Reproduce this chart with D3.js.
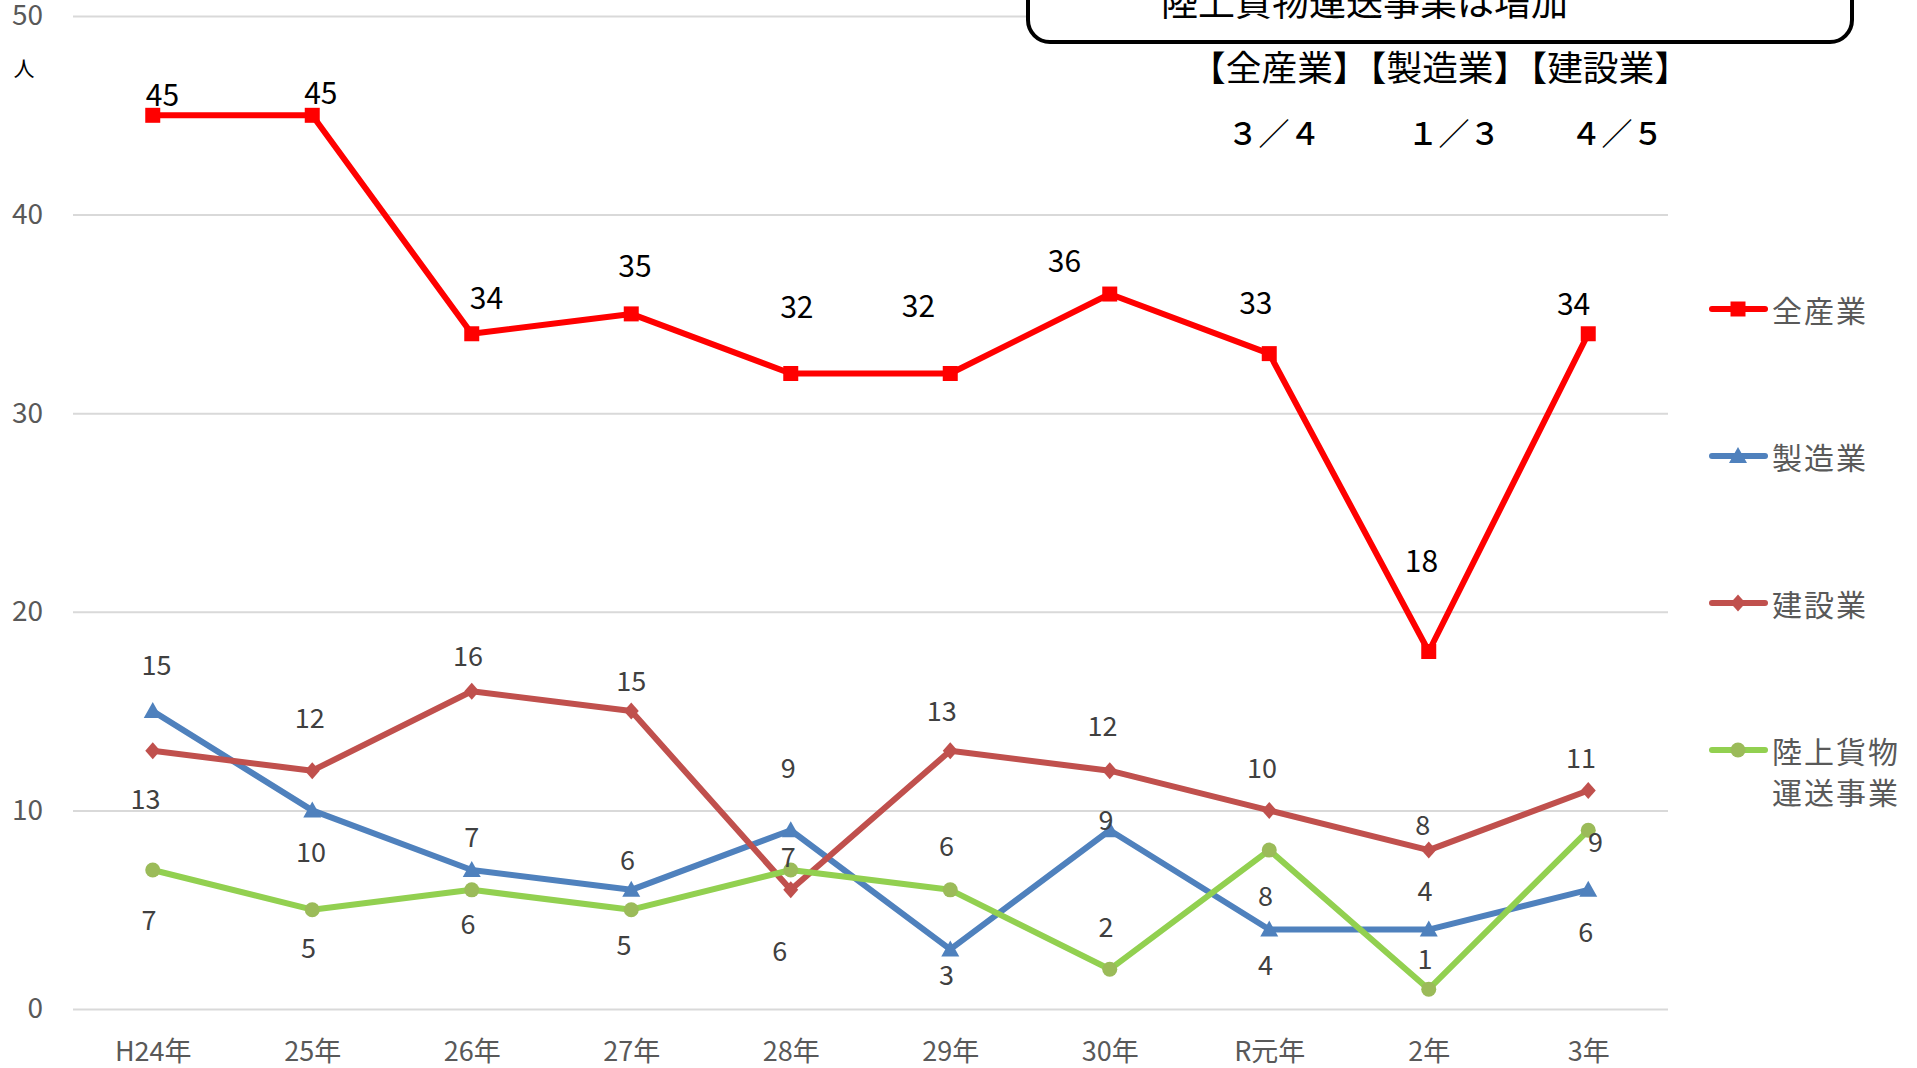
<!DOCTYPE html>
<html><head><meta charset="utf-8">
<script src="https://cdn.jsdelivr.net/npm/d3@7/dist/d3.min.js"></script>
<style>
html,body{margin:0;padding:0;background:#fff;}
svg{display:block;font-family:"Noto Sans CJK JP","Noto Sans",sans-serif;}
</style></head>
<body>
<svg id="chart" width="1917" height="1068"></svg>
<script>
// ---- data ----
const categories = ["H24年","25年","26年","27年","28年","29年","30年","R元年","2年","3年"];
const seriesNames = ["全産業","製造業","建設業","陸上貨物運送事業"];
const allIndustry = [45,45,34,35,32,32,36,33,18,34];
const manufacturing = [15,10,7,6,9,3,9,4,4,6];
const construction = [13,12,16,15,6,13,12,10,8,11];
const landFreight = [7,5,6,5,7,6,2,8,1,9];
const yTicks = [0,10,20,30,40,50];
const boxTitle = "陸上貨物運送事業は増加";
const ratioHeader = "【全産業】【製造業】【建設業】";
const ratios = ["３／４","１／３","４／５"];
const unitLabel = "人";

// ---- layout (label offsets in px, placed by hand in the original) ----
const labelOffsets = [
  [[8,-18],[7,-20],[12,-31],[3,-41],[5,-56],[-26,-57],[-37,-29],[-11,-43],[-6,-76],[-12,-26]],
  [[3,-39],[-1,33],[0,-28],[-3,-26],[-2,-52],[-3,20],[-3,-10],[-3,28],[-3,-33],[-2,33]],
  [[-6,38],[-2,-44],[-3,-30],[0,-26],[-9,49],[-7,-34],[-6,-38],[-6,-36],[-5,-22],[-6,-28]],
  [[-3,40],[-3,30],[-3,27],[-6,28],[-2,-12],[-3,-37],[-3,-36],[-3,36],[-3,-26],[6,8]]
].map(s => s.map(([dx,dy]) => [dx*1.2226, dy*1.2226]));

const styles = [
  {line:"#FF0000", marker:"#FF0000", shape:"square", labelColor:"#000", labelSize:30},
  {line:"#4F81BD", marker:"#4F81BD", shape:"triangle", labelColor:"#404040", labelSize:27},
  {line:"#C0504D", marker:"#C0504D", shape:"diamond", labelColor:"#404040", labelSize:27},
  {line:"#92D050", marker:"#9BBB59", shape:"circle", labelColor:"#404040", labelSize:27}
];
const seriesValues = [allIndustry, manufacturing, construction, landFreight];

const svg = d3.select("#chart");
const plotLeft = 73, plotRight = 1668, plotTop = 16, plotBottom = 1009;

const x = d3.scalePoint().domain(categories).range([plotLeft, plotRight]).padding(0.5);
const y = d3.scaleLinear().domain([0,50]).range([plotBottom, plotTop]);

// gridlines + y labels
const yAxis = svg.append("g").attr("transform", `translate(${plotLeft},0)`)
  .call(d3.axisLeft(y).tickValues(yTicks).tickSize(-(plotRight-plotLeft)).tickPadding(30));
yAxis.select(".domain").remove();
yAxis.selectAll(".tick line").attr("stroke","#D9D9D9").attr("stroke-width",2);
yAxis.selectAll(".tick text").attr("fill","#595959").attr("font-size",28)
  .attr("font-family",'"Noto Sans CJK JP",sans-serif');

// x labels
const xAxis = svg.append("g").attr("transform", `translate(0,${plotBottom})`)
  .call(d3.axisBottom(x).tickSize(0));
xAxis.select(".domain").remove();
xAxis.selectAll(".tick text").attr("fill","#595959").attr("font-size",27)
  .attr("y",40).attr("dy",null).attr("dominant-baseline","central")
  .attr("font-family",'"Noto Sans CJK JP",sans-serif');

// unit
svg.append("text").attr("x",24).attr("y",67).attr("text-anchor","middle")
  .attr("dominant-baseline","central").attr("font-size",21).attr("fill","#000").text(unitLabel);

function markerPath(shape){
  if(shape==="square") return "M-7.5,-7.5H7.5V7.5H-7.5Z";
  if(shape==="triangle") return "M0,-9L9,7H-9Z";
  if(shape==="diamond") return "M0,-8.5L7.5,0L0,8.5L-7.5,0Z";
  return null;
}
function drawMarker(g, shape, color, cx, cy){
  if(shape==="circle"){
    g.append("circle").attr("cx",cx).attr("cy",cy).attr("r",7.5).attr("fill",color);
  } else {
    g.append("path").attr("d",markerPath(shape)).attr("transform",`translate(${cx},${cy})`).attr("fill",color);
  }
}

const line = d3.line().x((d,i)=>x(categories[i])).y(d=>y(d));

const drawOrder = [0,1,2,3];
drawOrder.forEach(si => {
  const vals = seriesValues[si], st = styles[si];
  const g = svg.append("g");
  g.append("path").datum(vals).attr("d",line).attr("fill","none")
    .attr("stroke",st.line).attr("stroke-width",6).attr("stroke-linejoin","round");
  vals.forEach((v,i)=> drawMarker(g, st.shape, st.marker, x(categories[i]), y(v)));
});
drawOrder.forEach(si => {
  const vals = seriesValues[si], st = styles[si];
  svg.append("g").selectAll("text").data(vals).join("text")
    .attr("x",(d,i)=>x(categories[i])+labelOffsets[si][i][0])
    .attr("y",(d,i)=>y(d)+labelOffsets[si][i][1])
    .attr("text-anchor","middle").attr("dominant-baseline","central")
    .attr("font-size",st.labelSize).attr("fill",st.labelColor).text(d=>d);
});

// legend
const legendY = [309,456,603,750];
seriesNames.forEach((name,si)=>{
  const st = styles[si];
  const g = svg.append("g");
  g.append("line").attr("x1",1712).attr("x2",1765).attr("y1",legendY[si]).attr("y2",legendY[si])
    .attr("stroke",st.line).attr("stroke-width",6).attr("stroke-linecap","round");
  drawMarker(g, st.shape, st.marker, 1738, legendY[si]);
  const t = g.append("text").attr("x",1772).attr("font-size",30).attr("fill","#595959")
    .attr("letter-spacing",2);
  if(name.length>4){
    t.append("tspan").attr("x",1772).attr("y",legendY[si]).attr("dominant-baseline","central").text(name.slice(0,4));
    t.append("tspan").attr("x",1772).attr("y",legendY[si]+41).attr("dominant-baseline","central").text(name.slice(4));
  } else {
    t.attr("y",legendY[si]).attr("dominant-baseline","central").text(name);
  }
});

// annotation box
svg.append("rect").attr("x",1028).attr("y",-40).attr("width",824).attr("height",82)
  .attr("rx",22).attr("fill","#fff").attr("stroke","#000").attr("stroke-width",4);
svg.append("text").attr("x",1161).attr("y",16).attr("font-size",37).attr("fill","#000").text(boxTitle);
svg.append("text").attr("x",1440).attr("y",65).attr("text-anchor","middle").attr("dominant-baseline","central")
  .attr("font-size",35).attr("textLength",500).attr("lengthAdjust","spacingAndGlyphs")
  .attr("fill","#000").text(ratioHeader);
const ratioX = [1274,1454,1617];
ratios.forEach((r,i)=>{
  svg.append("text").attr("x",ratioX[i]).attr("y",131).attr("text-anchor","middle").attr("dominant-baseline","central")
    .attr("font-size",31).attr("font-weight",500).attr("fill","#000").text(r);
});
</script>
</body></html>
